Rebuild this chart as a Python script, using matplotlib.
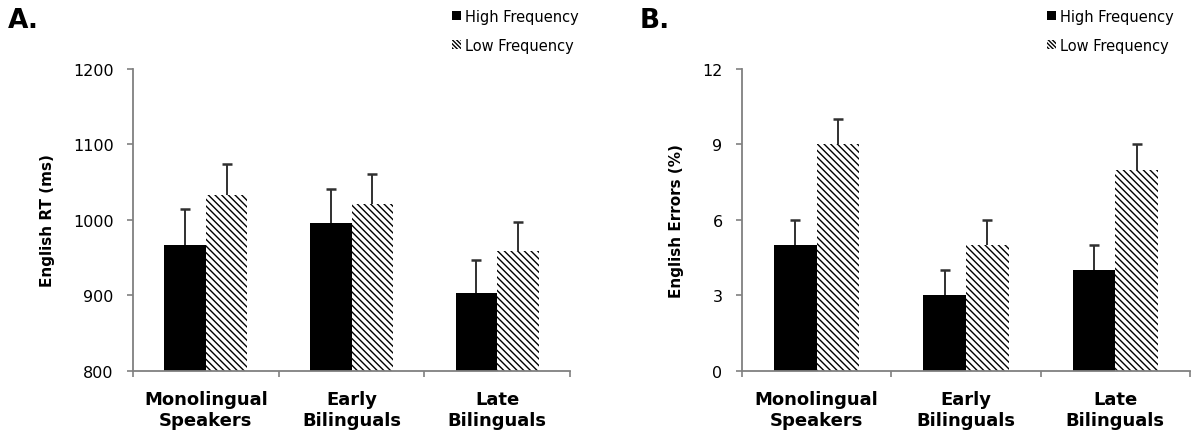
import numpy as np
import matplotlib
matplotlib.use('Agg')
from matplotlib import pyplot as plt
from matplotlib.patches import Patch

groups = ['Monolingual\nSpeakers', 'Early\nBilinguals', 'Late\nBilinguals']
series = ['High Frequency', 'Low Frequency']

# panel A: English RT (ms)
rt_high = [967, 995, 903]
rt_low = [1033, 1020, 959]
rt_high_err = [47, 45, 44]
rt_low_err = [41, 40, 38]

# panel B: English errors (%)
err_high = [5, 3, 4]
err_low = [9, 5, 8]
err_high_err = [1, 1, 1]
err_low_err = [1, 1, 1]

plt.rcParams['font.family'] = 'DejaVu Sans'
plt.rcParams['hatch.linewidth'] = 1.0
plt.rcParams['hatch.color'] = 'black'

fig = plt.figure(figsize=(11.99, 4.35), dpi=100)
W, H = 1199, 435
axA = fig.add_axes([133/W, 1-371.7/H, (570-133)/W, (371.7-69.5)/H])
axB = fig.add_axes([742/W, 1-371.7/H, (1190-742)/W, (371.7-70)/H])

grey = '#808080'
ecol = '#303030'
bw = 0.285


def up_err(ax, x, top, e):
    # upward-only error bars with a cap at the top
    top = np.asarray(top, dtype=float)
    e = np.asarray(e, dtype=float)
    ax.vlines(x, top, top + e, color=ecol, linewidth=1.4, zorder=3)
    ax.plot(x, top + e, linestyle='none', marker='_', markersize=7, markeredgewidth=1.8, color=ecol, zorder=3)


def panel(ax, hi, lo, hi_e, lo_e, ylim, yticks, ylabel):
    x = np.arange(len(groups)) + 0.5
    hi = np.asarray(hi, dtype=float)
    lo = np.asarray(lo, dtype=float)
    ax.bar(x - bw/2, hi - ylim[0], bw, bottom=ylim[0], color='black', edgecolor='black', linewidth=0)
    ax.bar(x + bw/2, lo - ylim[0], bw, bottom=ylim[0], color='white', edgecolor='black', linewidth=0,
           hatch='\\\\\\\\\\')
    up_err(ax, x - bw/2, hi, hi_e)
    up_err(ax, x + bw/2, lo, lo_e)
    ax.set_xlim(0, 3)
    ax.set_ylim(*ylim)
    ax.set_yticks(yticks)
    ax.set_xticks([0, 1, 2, 3])
    ax.set_xticklabels([])
    ax.set_xticks(x, minor=True)
    ax.set_xticklabels(groups, minor=True, fontsize=13, fontweight='bold', linespacing=1.2)
    ax.tick_params(axis='x', which='minor', length=0, pad=14)
    ax.tick_params(axis='x', which='major', length=4, width=1.2, color=grey, direction='out')
    ax.tick_params(axis='y', length=4, width=1.2, color=grey, labelsize=11.5, pad=10)
    for s in ['top', 'right']:
        ax.spines[s].set_visible(False)
    for s in ['left', 'bottom']:
        ax.spines[s].set_color(grey)
        ax.spines[s].set_linewidth(1.3)
    ax.set_ylabel(ylabel, fontsize=11, fontweight='bold', labelpad=13)


panel(axA, rt_high, rt_low, rt_high_err, rt_low_err, (800, 1200), [800, 900, 1000, 1100, 1200], 'English RT (ms)')
panel(axB, err_high, err_low, err_high_err, err_low_err, (0, 12), [0, 3, 6, 9, 12], 'English Errors (%)')

fig.text(8/W, 1-21/H, 'A.', fontsize=19, fontweight='bold', va='center', ha='left')
fig.text(640/W, 1-21/H, 'B.', fontsize=19, fontweight='bold', va='center', ha='left')

handles = [Patch(facecolor='black', edgecolor='black', linewidth=0),
           Patch(facecolor='white', edgecolor='black', linewidth=0, hatch='\\\\\\\\\\\\\\\\')]
for lx in [452/W, 1047/W]:
    fig.legend(handles, series, loc='upper left', bbox_to_anchor=(lx, 1 - 10/H), frameon=False,
               fontsize=10.5, handlelength=0.6, handleheight=0.6, handletextpad=0.3, labelspacing=0.95,
               borderpad=0, borderaxespad=0)

fig.savefig('out.png', dpi=100)
